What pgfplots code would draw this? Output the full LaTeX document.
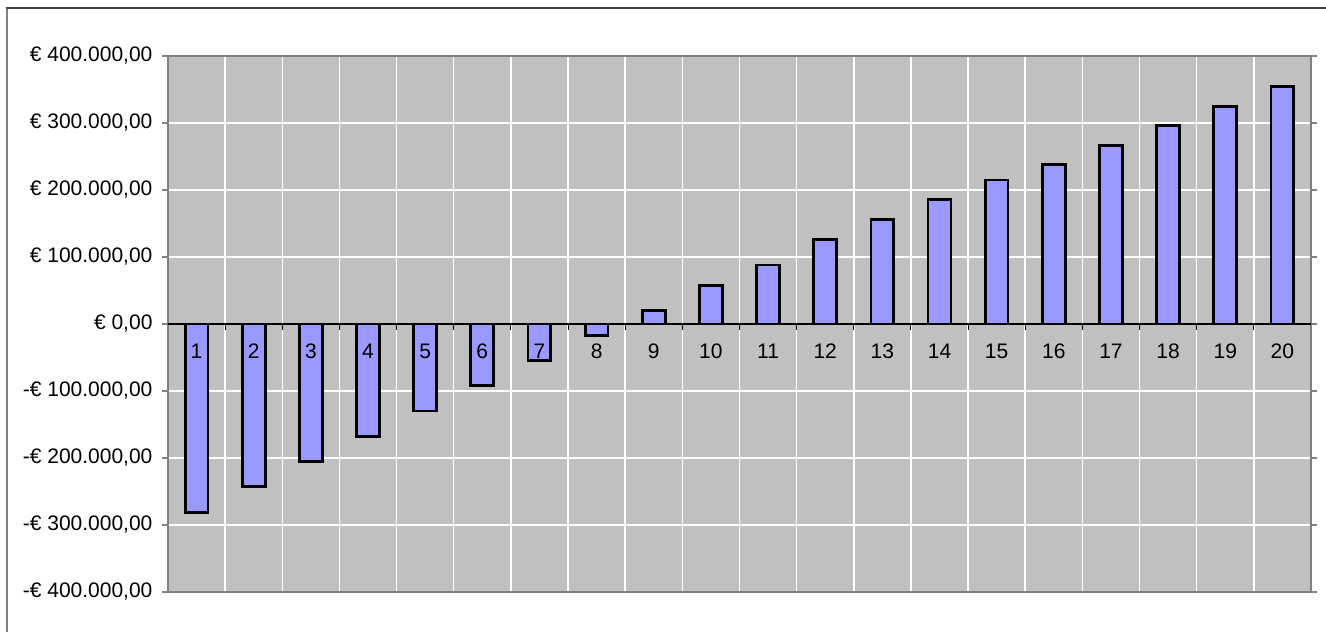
\documentclass[border=0pt]{standalone}
\usepackage{fontspec}
\setmainfont{Liberation Sans}
\usepackage{pgfplots}
\pgfplotsset{compat=1.18}
\definecolor{plotbg}{RGB}{192,192,192}
\definecolor{barfill}{RGB}{153,153,255}
\definecolor{framegray}{RGB}{128,128,128}
\definecolor{topline}{RGB}{64,64,64}

\begin{document}
\begin{tikzpicture}[font=\fontsize{21}{25}\selectfont]
\useasboundingbox (0,0) rectangle (1326pt,632pt);
% chart frame (cut off at right and bottom)
\draw[framegray, line width=2.5pt] (7pt,-20pt) -- (7pt,624pt);
\draw[topline, line width=1.5pt] (6pt,624pt) -- (1340pt,624pt);
\begin{axis}[
    at={(168pt,40pt)}, anchor=south west,
    scale only axis,
    width=1143pt, height=536pt,
    xmin=0.5, xmax=20.5,
    ymin=-400000, ymax=400000,
    scaled y ticks=false,
    /pgf/number format/assume math mode=true,
    axis background/.style={fill=plotbg},
    axis line style={framegray, line width=2pt},
    xtick={1.5,2.5,...,19.5},
    xticklabels={},
    xmajorgrids,
    x tick style={draw=none},
    ytick={-400000,-300000,...,400000},
    yticklabels={{-€ 400.000,00},{-€ 300.000,00},{-€ 200.000,00},{-€ 100.000,00},{€ 0,00},{€ 100.000,00},{€ 200.000,00},{€ 300.000,00},{€ 400.000,00}},
    ymajorgrids,
    major grid style={white, line width=1.5pt},
    y tick style={framegray, line width=1.5pt},
    tick align=outside,
    major tick length=6pt,
    yticklabel shift=6pt,
]
\addplot[ybar, bar width=0.4, fill=barfill, draw=black, line width=2.8pt] coordinates {
    (1,-281000) (2,-243000) (3,-205000) (4,-168000) (5,-130000)
    (6,-92000) (7,-55000) (8,-17000) (9,20000) (10,58000)
    (11,88000) (12,126000) (13,156000) (14,186000) (15,215000)
    (16,238000) (17,266000) (18,296000) (19,325000) (20,354000)
};
% category names just under the zero line
\addplot[draw=none, mark=none, point meta=x,
    nodes near coords,
    nodes near coords style={anchor=center, yshift=-27pt, black}] coordinates {
    (1,0) (2,0) (3,0) (4,0) (5,0) (6,0) (7,0) (8,0) (9,0) (10,0)
    (11,0) (12,0) (13,0) (14,0) (15,0) (16,0) (17,0) (18,0) (19,0) (20,0)
};
\end{axis}
% zero line with category-boundary ticks
\draw[black, line width=1.2pt] (168pt,308pt) -- (1311pt,308pt);
\foreach \i in {1,...,19}
    \draw[black, line width=1pt] (168pt+\i*57.15pt,308pt) -- ++(0,-6pt);
\end{tikzpicture}
\end{document}
